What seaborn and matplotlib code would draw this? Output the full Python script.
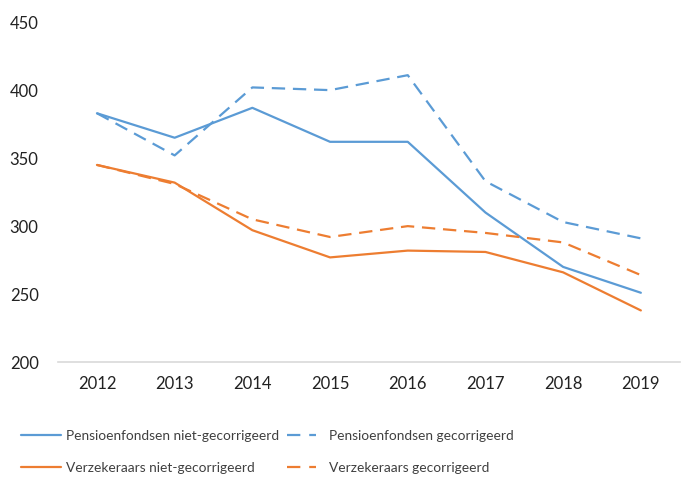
import matplotlib
matplotlib.use('Agg')
import matplotlib.pyplot as plt
import pandas as pd
import seaborn as sns

# data
jaren = ['2012', '2013', '2014', '2015', '2016', '2017', '2018', '2019']
pensioen_niet = [383, 365, 387, 362, 362, 310, 270, 251]
pensioen_gecorr = [383, 352, 402, 400, 411, 333, 303, 291]
verzekeraars_niet = [345, 332, 297, 277, 282, 281, 266, 238]
verzekeraars_gecorr = [345, 331, 305, 292, 300, 295, 288, 264]

reeksen = {
    'Pensioenfondsen niet-gecorrigeerd': pensioen_niet,
    'Pensioenfondsen gecorrigeerd': pensioen_gecorr,
    'Verzekeraars niet-gecorrigeerd': verzekeraars_niet,
    'Verzekeraars gecorrigeerd': verzekeraars_gecorr,
}
blauw = '#5B9BD5'
oranje = '#ED7D31'
kleuren = {
    'Pensioenfondsen niet-gecorrigeerd': blauw,
    'Pensioenfondsen gecorrigeerd': blauw,
    'Verzekeraars niet-gecorrigeerd': oranje,
    'Verzekeraars gecorrigeerd': oranje,
}

rows = []
for naam, waarden in reeksen.items():
    for i, (j, v) in enumerate(zip(jaren, waarden)):
        rows.append({'pos': i, 'jaar': j, 'waarde': v, 'reeks': naam})
df = pd.DataFrame(rows)

sns.set_style('white')
plt.rcParams['font.family'] = ['Lato', 'DejaVu Sans']

fig = plt.figure(figsize=(7, 4.92), dpi=100)
ax = fig.add_axes([0.083, 0.264, 0.888, 0.691])

handles = {}
for naam in reeksen:
    sub = df[df['reeks'] == naam]
    sns.lineplot(x='pos', y='waarde', data=sub, color=kleuren[naam], ax=ax,
                 linewidth=1.6, label=naam, legend=False)
    line = ax.get_lines()[-1]
    if 'niet' not in naam:
        line.set_dashes((6, 3.5))
    handles[naam] = line

ax.set_xlim(-0.5, 7.5)
ax.set_ylim(200, 450)
ax.set_yticks([200, 250, 300, 350, 400, 450])
ax.set_xticks(range(len(jaren)))
ax.set_xticklabels(jaren)
ax.set_xlabel('')
ax.set_ylabel('')
ax.tick_params(axis='both', length=0, labelsize=12, colors='#222222')
ax.tick_params(axis='x', pad=10)
ax.tick_params(axis='y', pad=14)
for s in ['left', 'right', 'top']:
    ax.spines[s].set_visible(False)
ax.spines['bottom'].set_color('#d9d9d9')
ax.spines['bottom'].set_linewidth(1.2)

# two legend columns, placed separately like the Excel layout
kolommen = [
    (['Pensioenfondsen niet-gecorrigeerd', 'Verzekeraars niet-gecorrigeerd'], 0.013, 2.9, 0.35),
    (['Pensioenfondsen gecorrigeerd', 'Verzekeraars gecorrigeerd'], 0.392, 2.1, 1.0),
]
for namen, x0, hlen, tpad in kolommen:
    leg = fig.legend([handles[n] for n in namen], namen,
                     loc='lower left', bbox_to_anchor=(x0, 0.012), frameon=False,
                     fontsize=9.9, handlelength=hlen, handletextpad=tpad,
                     labelspacing=1.45)
    for t in leg.get_texts():
        t.set_color('#404040')
    for h in leg.legend_handles:
        if h.get_linestyle() != '-':
            h.set_dashes((6, 4))

plt.savefig('out.png', dpi=100)
